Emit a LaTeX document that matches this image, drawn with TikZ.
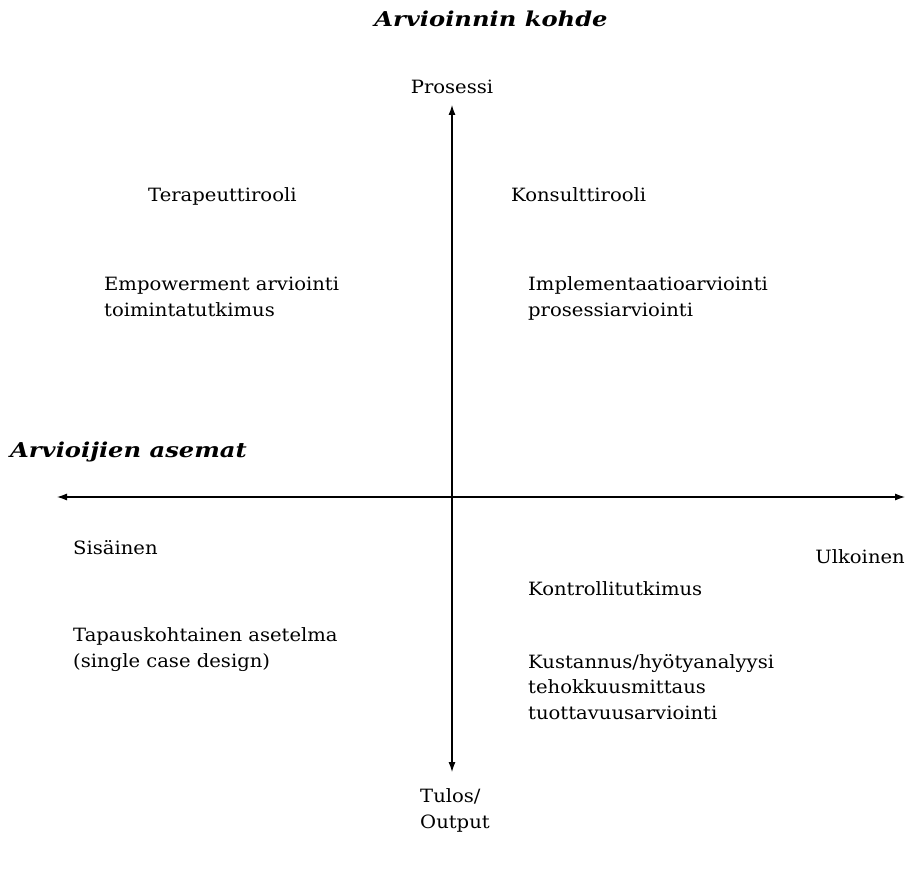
\documentclass[tikz,border=0pt]{standalone}
\usepackage{fontspec}
\usetikzlibrary{arrows.meta}
\setmainfont[FakeStretch=1.07]{DejaVu Serif}
\newfontfamily\ttlfont[FakeStretch=1.18]{DejaVu Serif}
\begin{document}
\begin{tikzpicture}[x=1pt,y=-1pt,
  lbl/.style={font=\fontsize{18.3}{25.5}\selectfont, inner sep=0pt, align=left},
  ttl/.style={font=\fontsize{20.5}{24}\ttlfont\bfseries\itshape, inner sep=0pt},
  axis/.style={line width=1.1pt, -{Latex[length=10pt,width=7pt]}}]
\useasboundingbox (0,0) rectangle (908,885);
\coordinate (ytop) at (452,105);
\coordinate (ybot) at (452,772);
\coordinate (xl) at (57,497);
\coordinate (xr) at (905,497);
\coordinate (c) at (452,497);
\draw[axis] (c) -- (ytop);
\draw[axis] (c) -- (ybot);
\draw[axis] (c) -- (xl);
\draw[axis] (c) -- (xr);
\node[ttl, anchor=base] (t1) at (491,27) {Arvioinnin kohde};
\node[ttl, anchor=base west] (t2) at (10,457) {Arvioijien asemat};
\node[lbl, anchor=base] (pro) at (452,94) {Prosessi};
\node[lbl, anchor=base west] (ter) at (148,202) {Terapeuttirooli};
\node[lbl, anchor=base west] (kon) at (511,202) {Konsulttirooli};
\node[lbl, anchor=base west] (emp) at (104,316.5) {Empowerment arviointi\\toimintatutkimus};
\node[lbl, anchor=base west] (imp) at (528,316.5) {Implementaatioarviointi\\prosessiarviointi};
\node[lbl, anchor=base west] (sis) at (73,554) {Sisäinen};
\node[lbl, anchor=base east] (ulk) at (905,563) {Ulkoinen};
\node[lbl, anchor=base west] (kontr) at (528,595) {Kontrollitutkimus};
\node[lbl, anchor=base west] (tap) at (73,667) {Tapauskohtainen asetelma\\(single case design)};
\node[lbl, anchor=base west] (kus) at (528,719) {Kustannus/hyötyanalyysi\\tehokkuusmittaus\\tuottavuusarviointi};
\node[lbl, anchor=base west] (tul) at (420,828) {Tulos/\\Output};
\end{tikzpicture}
\end{document}
